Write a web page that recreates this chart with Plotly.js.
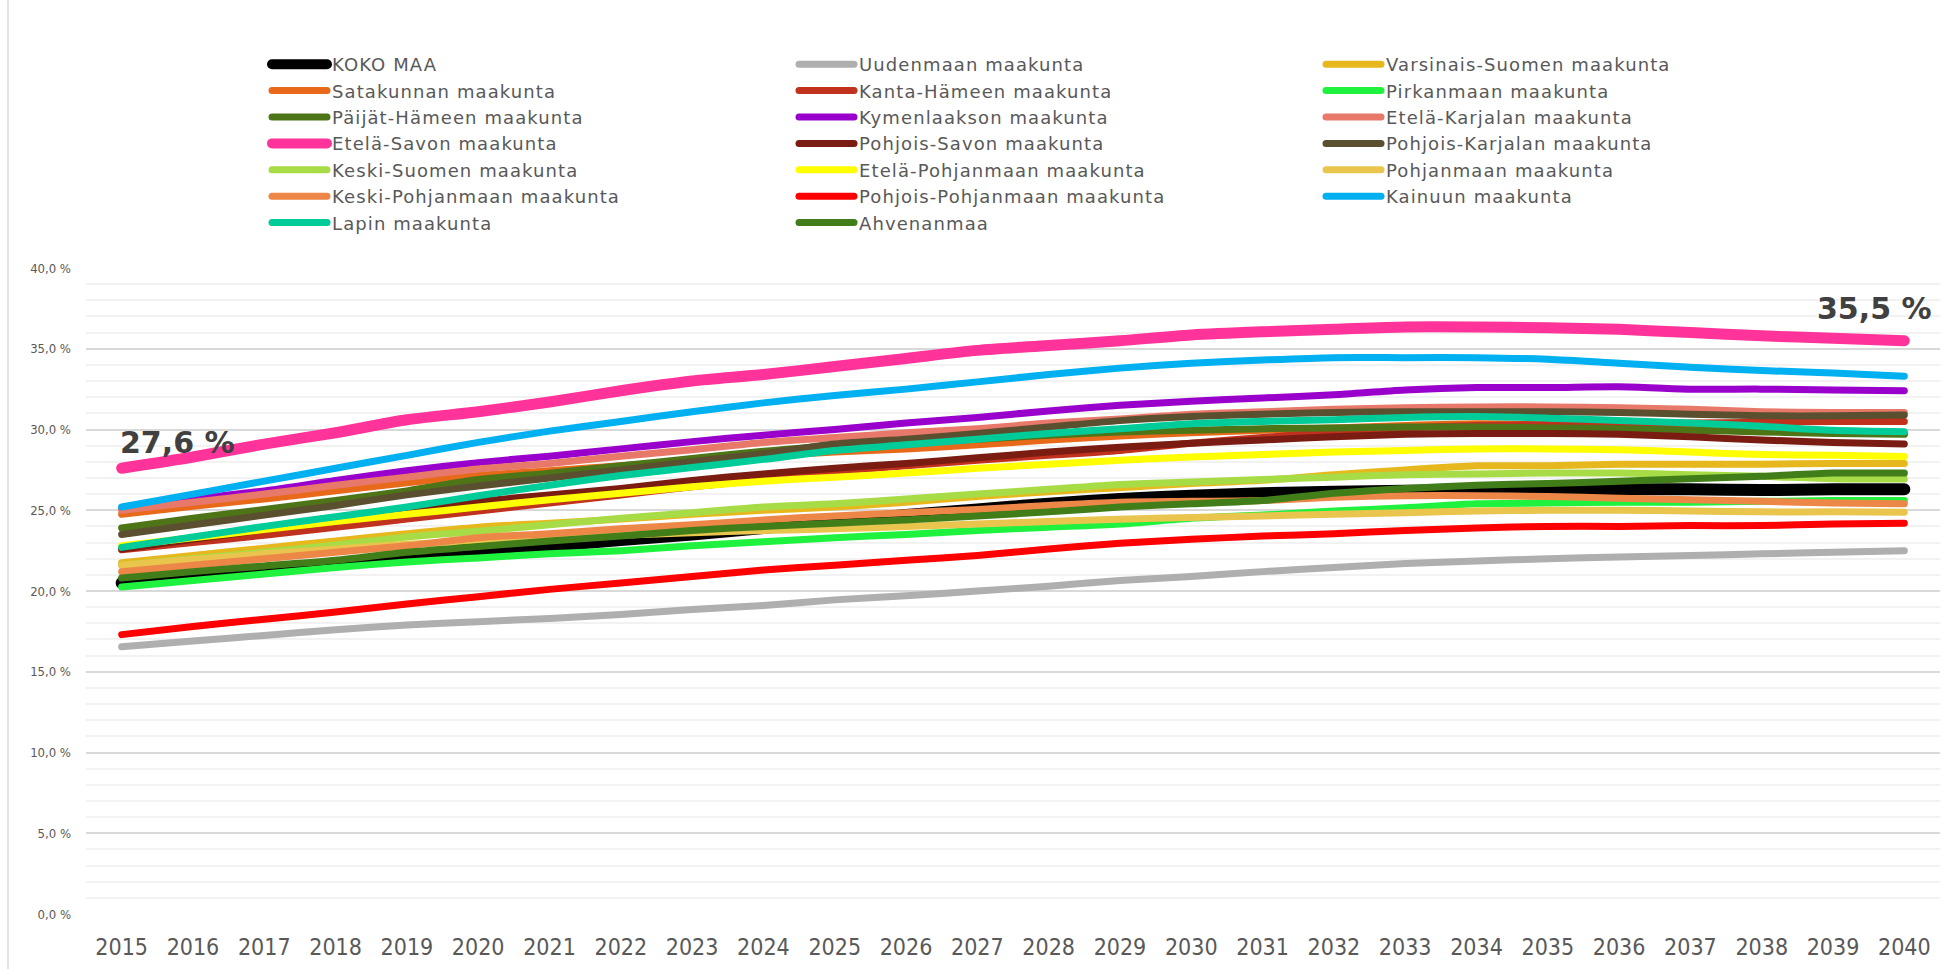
<!DOCTYPE html>
<html><head><meta charset="utf-8">
<script src="https://cdn.plot.ly/plotly-3.0.1.min.js"></script>
<style>
html,body{margin:0;padding:0;background:#fff;}
#chart{width:1958px;height:969px;}
.js-line{stroke-linecap:round;stroke-linejoin:round;}
.legendtext{letter-spacing:1.1px;}
</style></head><body><div id="chart"></div>
<script>
const years = [2015,2016,2017,2018,2019,2020,2021,2022,2023,2024,2025,2026,2027,2028,2029,2030,2031,2032,2033,2034,2035,2036,2037,2038,2039,2040];

const kokoMaa        = [20.5,20.85,21.25,21.65,22.05,22.45,22.8,23.15,23.5,23.9,24.3,24.7,25.05,25.4,25.7,25.9,26.05,26.15,26.2,26.25,26.3,26.3,26.3,26.25,26.3,26.3];
const uusimaa        = [16.55,16.9,17.25,17.6,17.9,18.1,18.3,18.55,18.85,19.1,19.45,19.7,20.0,20.3,20.65,20.9,21.2,21.45,21.7,21.85,22.0,22.1,22.2,22.3,22.4,22.5];
const varsinaisSuomi = [21.75,22.2,22.65,23.1,23.55,23.95,24.2,24.45,24.75,25.0,25.2,25.5,25.85,26.15,26.4,26.65,26.85,27.2,27.5,27.75,27.75,27.85,27.85,27.85,27.9,27.9];
const satakunta      = [24.75,25.25,25.7,26.2,26.7,27.15,27.45,27.75,28.05,28.35,28.6,28.8,29.05,29.35,29.6,29.8,29.95,30.1,30.25,30.35,30.3,30.2,30.05,29.9,29.8,29.75];
const kantaHame      = [22.55,23.0,23.45,23.95,24.45,24.95,25.45,25.95,26.45,26.9,27.4,27.75,28.1,28.4,28.7,29.15,29.5,29.85,30.1,30.25,30.3,30.35,30.4,30.45,30.5,30.5];
const pirkanmaa      = [20.25,20.65,21.05,21.45,21.8,22.05,22.3,22.5,22.8,23.05,23.3,23.5,23.75,23.95,24.15,24.5,24.7,24.95,25.15,25.4,25.45,25.5,25.5,25.55,25.6,25.6];
const paijatHame     = [23.9,24.5,25.05,25.6,26.2,26.9,27.3,27.75,28.2,28.65,29.0,29.2,29.4,29.65,29.85,29.95,30.05,30.1,30.15,30.15,30.1,30.05,29.95,29.85,29.75,29.7];
const kymenlaakso    = [25.1,25.7,26.2,26.85,27.45,27.95,28.35,28.8,29.25,29.65,30.0,30.4,30.75,31.15,31.5,31.75,31.95,32.15,32.45,32.6,32.6,32.65,32.5,32.5,32.45,32.4];
const etelaKarjala   = [25.0,25.5,26.0,26.55,27.05,27.55,27.9,28.35,28.75,29.2,29.5,29.8,30.05,30.4,30.65,30.95,31.1,31.25,31.35,31.4,31.4,31.35,31.25,31.1,31.05,31.05];
const etelaSavo      = [27.6,28.3,29.1,29.8,30.6,31.1,31.7,32.4,33.0,33.4,33.9,34.4,34.9,35.2,35.5,35.85,36.05,36.2,36.35,36.35,36.3,36.2,36.0,35.8,35.65,35.5];
const pohjoisSavo    = [22.6,23.2,23.8,24.45,25.05,25.55,25.95,26.35,26.85,27.25,27.6,27.9,28.25,28.6,28.9,29.15,29.35,29.55,29.7,29.75,29.75,29.7,29.55,29.35,29.2,29.1];
const pohjoisKarjala = [23.5,24.1,24.7,25.3,25.95,26.5,27.0,27.5,28.0,28.5,29.1,29.4,29.75,30.15,30.55,30.8,30.95,31.05,31.1,31.1,31.1,31.05,30.95,30.85,30.85,30.9];
const keskiSuomi     = [21.6,22.0,22.4,22.85,23.35,23.7,24.1,24.5,24.85,25.2,25.4,25.7,26.0,26.3,26.6,26.75,26.9,27.05,27.2,27.25,27.3,27.3,27.2,27.1,26.95,26.93];
const etelaPohjanmaa = [22.8,23.3,23.8,24.3,24.75,25.2,25.65,26.05,26.45,26.8,27.05,27.3,27.6,27.85,28.1,28.3,28.45,28.6,28.7,28.8,28.8,28.75,28.6,28.45,28.4,28.33];
const pohjanmaa      = [21.6,21.95,22.3,22.6,22.9,23.1,23.3,23.45,23.6,23.75,23.85,24.0,24.15,24.3,24.45,24.55,24.65,24.75,24.85,24.95,25.0,25.0,24.95,24.9,24.9,24.87];
const keskiPohjanmaa = [21.2,21.6,22.0,22.4,22.8,23.3,23.55,23.85,24.1,24.4,24.65,24.85,25.05,25.3,25.5,25.55,25.6,25.8,25.9,25.9,25.85,25.75,25.65,25.55,25.45,25.4];
const pohjoisPohjanmaa=[17.3,17.8,18.25,18.7,19.2,19.65,20.1,20.5,20.9,21.3,21.6,21.9,22.2,22.6,22.95,23.2,23.4,23.55,23.75,23.9,24.0,24.0,24.05,24.05,24.15,24.2];
const kainuu         = [25.2,26.0,26.8,27.6,28.4,29.2,29.9,30.5,31.1,31.65,32.1,32.5,32.95,33.4,33.8,34.1,34.3,34.45,34.45,34.45,34.35,34.1,33.85,33.65,33.5,33.3];
const lappi          = [22.7,23.35,24.0,24.6,25.2,25.9,26.55,27.15,27.65,28.15,28.7,29.05,29.4,29.75,30.05,30.35,30.5,30.6,30.75,30.8,30.7,30.55,30.4,30.2,29.95,29.86];
const ahvenanmaa     = [20.8,21.2,21.55,21.9,22.4,22.75,23.1,23.4,23.75,24.0,24.2,24.4,24.65,24.9,25.2,25.4,25.6,26.05,26.35,26.55,26.65,26.8,26.95,27.1,27.3,27.3];

const seriesNames = ["KOKO MAA","Uudenmaan maakunta","Varsinais-Suomen maakunta","Satakunnan maakunta","Kanta-Hämeen maakunta","Pirkanmaan maakunta","Päijät-Hämeen maakunta","Kymenlaakson maakunta","Etelä-Karjalan maakunta","Etelä-Savon maakunta","Pohjois-Savon maakunta","Pohjois-Karjalan maakunta","Keski-Suomen maakunta","Etelä-Pohjanmaan maakunta","Pohjanmaan maakunta","Keski-Pohjanmaan maakunta","Pohjois-Pohjanmaan maakunta","Kainuun maakunta","Lapin maakunta","Ahvenanmaa"];
const seriesValues = [kokoMaa,uusimaa,varsinaisSuomi,satakunta,kantaHame,pirkanmaa,paijatHame,kymenlaakso,etelaKarjala,etelaSavo,pohjoisSavo,pohjoisKarjala,keskiSuomi,etelaPohjanmaa,pohjanmaa,keskiPohjanmaa,pohjoisPohjanmaa,kainuu,lappi,ahvenanmaa];
const seriesColors = ["#000000","#AFAFAF","#E6B81E","#E8691A","#C0311E","#1EF23F","#4E7418","#9900CC","#E8786A","#FF3399","#7A1C12","#5A5030","#A8DC46","#FFFF00","#E9C54E","#EC8748","#FF0000","#00B0F0","#00CC99","#417E1A"];
const yTicks = [0,5,10,15,20,25,30,35,40];

const PCT = '\u0025';
const narrow = "Liberation Sans Narrow, DejaVu Sans Condensed, Liberation Sans, sans-serif";
const xCats = years.map(String);
const fmt = v => v.toFixed(1).replace('.', ',') + ' ' + PCT;

const traces = seriesNames.map((name, i) => ({
  type: 'scatter', mode: 'lines', name: name,
  x: xCats, y: seriesValues[i],
  line: {color: seriesColors[i], width: i === 0 ? 12 : (i === 9 ? 11 : 7), shape: 'spline', smoothing: 0.8},
  hoverinfo: 'x+y+name'
}));

const hi = seriesValues[9];
const lastIdx = years.length - 1;

const layout = {
  width: 1958, height: 969,
  margin: {l: 86, r: 18, t: 268, b: 55},
  paper_bgcolor: '#ffffff', plot_bgcolor: '#ffffff',
  separators: ', ',
  showlegend: true,
  legend: {
    orientation: 'h', xref: 'container', yref: 'container',
    x: 267/1958, y: 1 - 46/969, xanchor: 'left', yanchor: 'top',
    entrywidth: 457, entrywidthmode: 'pixels', itemwidth: 55,
    font: {family: 'DejaVu Sans', size: 18, color: '#595959'},
    bgcolor: 'rgba(0,0,0,0)', traceorder: 'normal', tracegroupgap: 0
  },
  xaxis: {
    type: 'category', range: [-0.5, 25.5], showgrid: false, zeroline: false, showline: false,
    ticks: '', tickfont: {family: narrow, size: 23, color: '#595959'}, ticklabelstandoff: 17
  },
  yaxis: {
    range: [0, 40], tickmode: 'array', tickvals: yTicks, ticktext: yTicks.map(fmt),
    showgrid: true, gridcolor: '#D9D9D9', gridwidth: 2,
    minor: {dtick: 1, tick0: 0, showgrid: true, gridcolor: '#F2F2F2', gridwidth: 2},
    zeroline: false, showline: false, ticks: '',
    tickfont: {family: narrow, size: 13, color: '#595959'}, ticklabelstandoff: 14
  },
  annotations: [
    {x: 0, y: hi[0], xref: 'x', yref: 'y', text: fmt(hi[0]), showarrow: false,
     xanchor: 'left', yanchor: 'middle', xshift: -4, yshift: 26,
     font: {family: 'DejaVu Sans', size: 30, weight: 700, color: '#404040'}},
    {x: lastIdx, y: hi[lastIdx], xref: 'x', yref: 'y', text: fmt(hi[lastIdx]), showarrow: false,
     xanchor: 'right', yanchor: 'middle', xshift: 30, yshift: 32,
     font: {family: 'DejaVu Sans', size: 30, weight: 700, color: '#404040'}}
  ],
  shapes: [
    {type: 'line', xref: 'paper', yref: 'paper', x0: -78/1854, x1: -78/1854, y0: -55/646, y1: 914/646,
     line: {color: '#D9D9D9', width: 1.5}}
  ]
};

Plotly.newPlot('chart', traces, layout, {displayModeBar: false, responsive: false});
</script>
</body></html>
